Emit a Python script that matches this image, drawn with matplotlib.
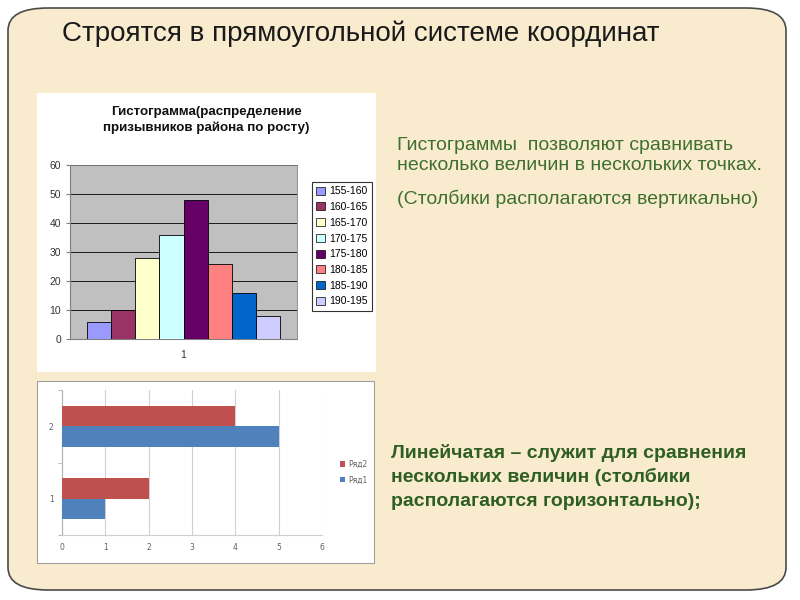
import matplotlib
matplotlib.use('Agg')
import matplotlib.pyplot as plt
from matplotlib.patches import FancyBboxPatch, Rectangle, Patch
import numpy as np

# ---- data ----
hist_ranges = ['155-160', '160-165', '165-170', '170-175',
               '175-180', '180-185', '185-190', '190-195']
hist_counts = [6, 10, 28, 36, 48, 26, 16, 8]
hist_colors = ['#9999FF', '#993366', '#FFFFCC', '#CCFFFF',
               '#660066', '#FF8080', '#0066CC', '#CCCCFF']

bar_categories = [1, 2]
row1_values = [1, 5]   # Ряд1
row2_values = [2, 4]   # Ряд2

W, H = 800, 600
FONT = 'Liberation Sans'

fig = plt.figure(figsize=(8, 6), dpi=100)
fig.patch.set_facecolor('white')


def fx(x):
    return x / W


def fy(y):
    return 1 - y / H


def rect(l, t, r, b):
    return [fx(l), fy(b), (r - l) / W, (b - t) / H]


# slide background
slide = FancyBboxPatch((fx(8), fy(590)), fx(786) - fx(8), fy(8) - fy(590),
                       boxstyle='round,pad=0,rounding_size=0.05',
                       transform=fig.transFigure, facecolor='#F9ECCE',
                       edgecolor='#4A4A4A', linewidth=1.2,
                       mutation_aspect=H / W, zorder=-3)
fig.patches.append(slide)

fig.text(fx(62), fy(34), 'Строятся в прямоугольной системе координат',
         family=FONT, fontsize=20, color='#1a1a1a', va='center', ha='left')

# white boxes behind charts
fig.patches.append(Rectangle((fx(37), fy(372)), (376 - 37) / W, (372 - 93) / H,
                             transform=fig.transFigure, facecolor='white',
                             edgecolor='none', zorder=-2))
fig.patches.append(Rectangle((fx(37), fy(563)), (374 - 37) / W, (563 - 381) / H,
                             transform=fig.transFigure, facecolor='white',
                             edgecolor='#A0A0A0', linewidth=0.8, zorder=-2))

# ---- histogram ----
ax = fig.add_axes(rect(70, 165, 297, 339))
ax.set_facecolor('#C0C0C0')
w = (193 / 227) / len(hist_counts)
xs = 1 + (np.arange(len(hist_counts)) - (len(hist_counts) - 1) / 2) * w
ax.bar(xs, hist_counts, width=w, color=hist_colors, edgecolor='black',
       linewidth=0.6, zorder=3)
ax.set_xlim(0.5, 1.5)
ax.set_ylim(0, 60)
ax.set_yticks(range(0, 61, 10))
ax.set_xticks([1])
ax.set_xticklabels(['1'])
ax.set_axisbelow(True)
ax.yaxis.grid(True, color='black', linewidth=0.6)
for s in ['top', 'right']:
    ax.spines[s].set_color('#808080')
    ax.spines[s].set_linewidth(0.6)
ax.spines['left'].set_color('#808080')
ax.spines['bottom'].set_color('#808080')
ax.tick_params(axis='both', labelsize=7.5, colors='#808080', labelcolor='#333333', length=3)
ax.tick_params(axis='x', pad=8, length=0)
for t in ax.get_xticklabels() + ax.get_yticklabels():
    t.set_family(FONT)

fig.text(fx(206), fy(120), 'Гистограмма(распределение\nпризывников района по росту)',
         family=FONT, fontsize=9.6, fontweight='bold', ha='center',
         va='center', linespacing=1.3, color='#111111')

handles = [Patch(facecolor=c, edgecolor='black', linewidth=0.5) for c in hist_colors]
leg = fig.legend(handles, hist_ranges, loc='upper left',
                 bbox_to_anchor=(fx(307), fy(177)), frameon=True,
                 fancybox=False, edgecolor='black', handlelength=0.8,
                 handleheight=0.8, handletextpad=0.4, labelspacing=0.55,
                 borderpad=0.4, prop={'family': FONT, 'size': 7.5})
leg.get_frame().set_linewidth(0.8)

# ---- horizontal bar chart ----
bx = fig.add_axes(rect(62, 390, 322, 535))
bx.set_facecolor('white')
h = 0.28
cats = np.array(bar_categories)
bx.barh(cats - h / 2, row1_values, height=h, color='#4F81BD', zorder=3, label='Ряд1')
bx.barh(cats + h / 2, row2_values, height=h, color='#C0504D', zorder=3, label='Ряд2')
bx.set_xlim(0, 6)
bx.set_ylim(0.5, 2.5)
bx.set_xticks(range(0, 7))
bx.set_yticks(cats)
bx.set_yticks([0.5, 1.5, 2.5], minor=True)
bx.set_axisbelow(True)
bx.xaxis.grid(True, color='#D0D0D0', linewidth=0.8)
for s in ['top', 'right']:
    bx.spines[s].set_visible(False)
bx.spines['left'].set_color('#B0B0B0')
bx.spines['bottom'].set_color('#D0D0D0')
bx.tick_params(axis='both', which='major', labelsize=5.5, labelcolor='#606060',
               length=0, pad=6)
bx.tick_params(axis='y', which='minor', length=3, color='#B0B0B0')
hb, lb = bx.get_legend_handles_labels()
fig.legend(hb[::-1], lb[::-1], loc='center left', bbox_to_anchor=(fx(333), fy(472)),
           frameon=False, fontsize=5.5, handlelength=0.7, handleheight=0.7,
           handletextpad=0.4, labelspacing=0.9, labelcolor='#606060')

# ---- right side text ----
green = '#3F6F2F'
for y, line in [(145, 'Гистограммы  позволяют сравнивать'),
                (166, 'несколько величин в нескольких точках.'),
                (199, '(Столбики располагаются вертикально)')]:
    fig.text(fx(397), fy(y), line, family=FONT, fontsize=14, color=green, va='center')

dgreen = '#2E5E22'
for i, line in enumerate(['Линейчатая – служит для сравнения',
                          'нескольких величин (столбики',
                          'располагаются горизонтально);']):
    fig.text(fx(391), fy(453 + 24 * i), line, family=FONT, fontsize=14,
             fontweight='bold', color=dgreen, va='center')

fig.savefig('out.png', dpi=100)
